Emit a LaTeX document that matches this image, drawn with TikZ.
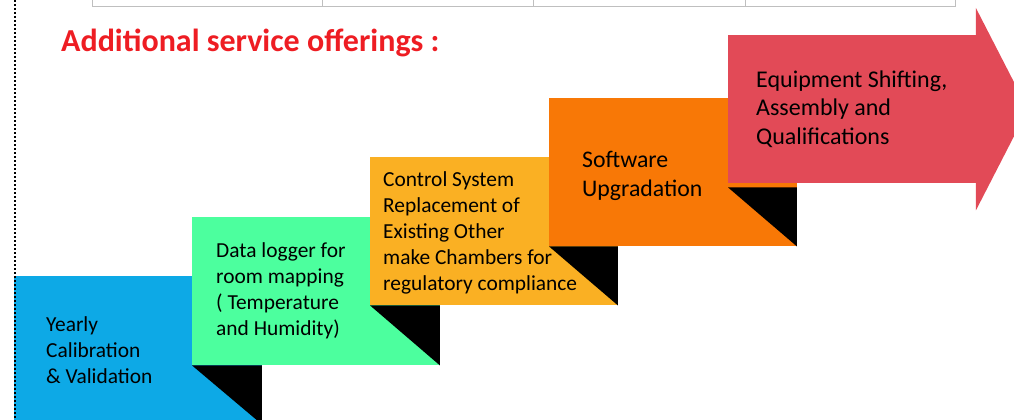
\documentclass[tikz,border=0pt]{standalone}
\usepackage{fontspec}
\setmainfont{Carlito}
\usepackage{tikz}
\usepackage{xcolor}
\usetikzlibrary{positioning}
\usetikzlibrary{arrows,calc}

\definecolor{stepblue}{HTML}{0DA9E6}
\definecolor{stepgreen}{HTML}{4CFF9E}
\definecolor{stepyellow}{HTML}{FAB023}
\definecolor{steporange}{HTML}{F87806}
\definecolor{stepred}{HTML}{E24A57}
\definecolor{titlered}{HTML}{EE1D23}

\begin{document}
\begin{tikzpicture} [
       x=1pt, y=-1pt,
       stepbox/.style={rectangle, inner sep=0pt, anchor=north west,
               minimum width=247.5pt, minimum height=148pt},
       steptext/.style={align=left, anchor=base west, inner sep=0pt,
               font=\fontsize{21.4}{26}\selectfont},
       fold/.style     = { fill=black },
       ]
       \useasboundingbox (0,0) rectangle (1014,420);
       \clip (0,0) rectangle (1014,420);
       % table above
       \draw[gray!50, line width=1pt] (92,0) -- (92,6.5) -- (955,6.5) -- (955,0);
       \foreach \tx in {322,533,745}
         \draw[gray!50, line width=1pt] (\tx,0) -- (\tx,6.5);
       \node (title) [anchor=base west, inner sep=0pt, text=titlered,
               font=\fontsize{32}{38}\selectfont\bfseries] at (61,52) {Additional service offerings :};
       % steps
       \node (yearly) [stepbox, fill=stepblue] at (14,276) {};
       \node (logger) [stepbox, fill=stepgreen] at (192,217) {};
       \node (control) [stepbox, fill=stepyellow] at (370,157) {};
       \node (software) [stepbox, fill=steporange] at (549,98) {};
       \node (equip) [stepbox, fill=stepred] at (728,35) {};
       \fill[stepred] (equip.north east) -- ($(equip.north east)+(0,-27)$)
               -- ($(equip.east)+(52,0)$) -- ($(equip.south east)+(0,27)$)
               -- (equip.south east) -- cycle;
       \begin{scope}[every path/.style=fold]
        \path (logger.south west) -- (yearly.east |- logger.south) -- (yearly.south east) -- cycle;
        \path (control.south west) -- (logger.east |- control.south) -- (logger.south east) -- cycle;
        \path (software.south west) -- (control.east |- software.south) -- (control.south east) -- cycle;
        \path ($(equip.south west)+(0,4)$) -- ($(software.east |- equip.south)+(0,4)$) -- (software.south east) -- cycle;
       \end{scope}
       % texts (anchored on the baseline of the last line)
       \node (yearlytxt) [steptext] at ($(yearly.north west)+(32,107)$)
               {Yearly\\Calibration\\\& Validation};
       \node (loggertxt) [steptext] at ($(logger.north west)+(24,118)$)
               {Data logger for\\room mapping\\( Temperature\\and Humidity)};
       \node (controltxt) [steptext] at ($(control.north west)+(13,133)$)
               {Control System\\Replacement of\\Existing Other\\make Chambers for\\regulatory compliance};
       \node (softwaretxt) [steptext, font=\fontsize{23.8}{29}\selectfont] at ($(software.north west)+(33,98)$)
               {Software\\Upgradation};
       \node (equiptxt) [steptext, font=\fontsize{24}{28.5}\selectfont] at ($(equip.north west)+(28,109)$)
               {Equipment Shifting,\\Assembly and\\Qualifications};
       % dotted margin
       \draw[line width=2pt, dash pattern=on 2pt off 2pt] (15,0) -- (15,420);
\end{tikzpicture}
\end{document}
